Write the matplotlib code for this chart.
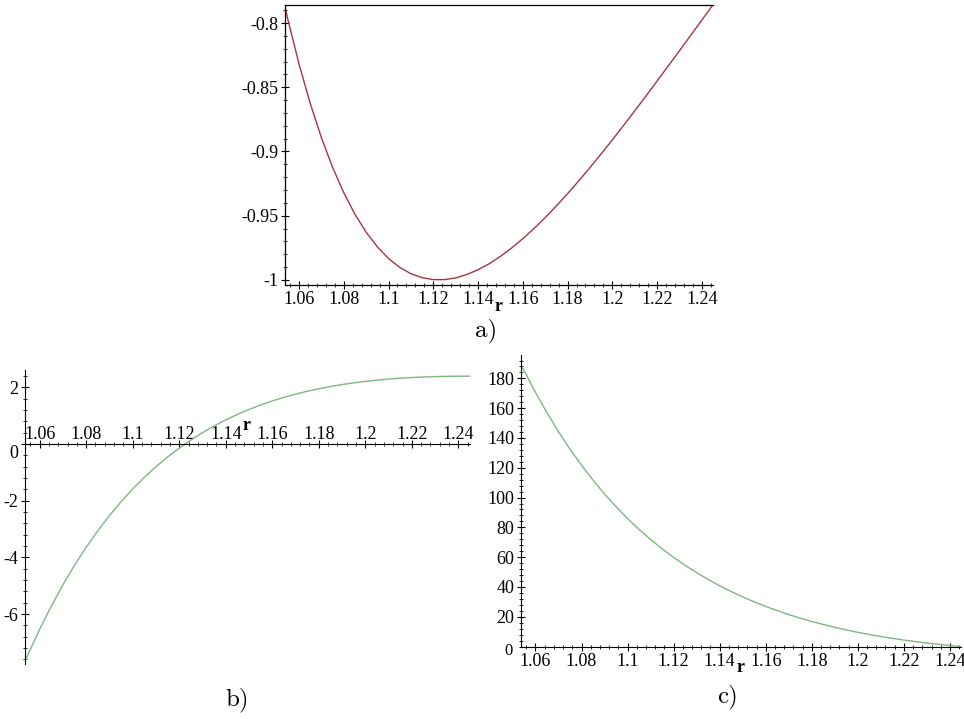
import matplotlib
matplotlib.use("Agg")
import matplotlib.pyplot as plt
from matplotlib.ticker import MultipleLocator, FixedLocator, FixedFormatter

plt.rcParams["axes.unicode_minus"] = False
plt.rcParams["font.family"] = ["Liberation Serif", "DejaVu Serif"]

# ---------------- data ----------------
r = [1.0535, 1.055, 1.06, 1.065, 1.07, 1.075, 1.08, 1.085, 1.09, 1.095,
     1.10, 1.105, 1.11, 1.115, 1.12, 1.125, 1.13, 1.135, 1.14, 1.145,
     1.15, 1.155, 1.16, 1.165, 1.17, 1.175, 1.18, 1.185, 1.19, 1.195,
     1.20, 1.205, 1.21, 1.215, 1.22, 1.225, 1.23, 1.235, 1.24, 1.245]

potential = [-0.7857, -0.7971, -0.8320, -0.8626, -0.8893, -0.9124, -0.9322,
             -0.9490, -0.9629, -0.9743, -0.9834, -0.9903, -0.9952, -0.9983,
             -0.9998, -0.9998, -0.9985, -0.9958, -0.9921, -0.9874, -0.9817,
             -0.9752, -0.9679, -0.9600, -0.9515, -0.9424, -0.9329, -0.9229,
             -0.9126, -0.9019, -0.8910, -0.8798, -0.8684, -0.8569, -0.8452,
             -0.8334, -0.8216, -0.8096, -0.7977, -0.7857]

first_deriv = [-7.714, -7.432, -6.543, -5.725, -4.972, -4.281, -3.646, -3.063,
               -2.528, -2.037, -1.588, -1.177, -0.801, -0.457, -0.144, 0.142,
               0.402, 0.638, 0.852, 1.046, 1.221, 1.379, 1.521, 1.648, 1.762,
               1.863, 1.952, 2.031, 2.100, 2.160, 2.212, 2.256, 2.293, 2.323,
               2.347, 2.366, 2.380, 2.390, 2.395, 2.396]

second_deriv = [190.1, 185.4, 170.6, 156.9, 144.2, 132.5, 121.7, 111.7, 102.4,
                93.9, 85.9, 78.6, 71.9, 65.6, 59.8, 54.5, 49.6, 45.0, 40.8,
                36.9, 33.3, 30.0, 26.9, 24.1, 21.4, 19.0, 16.8, 14.8, 12.9,
                11.1, 9.5, 8.1, 6.7, 5.5, 4.3, 3.3, 2.3, 1.5, 0.7, -0.1]

x_ticks = [1.06, 1.08, 1.10, 1.12, 1.14, 1.16, 1.18, 1.20, 1.22, 1.24]
x_tick_labels = ["1.06", "1.08", "1.1", "1.12", "1.14", "1.16", "1.18",
                 "1.2", "1.22", "1.24"]
a_yticks = [-1.0, -0.95, -0.9, -0.85, -0.8]
a_ytick_labels = ["-1", "-0.95", "-0.9", "-0.85", "-0.8"]
b_yticks = [-6, -4, -2, 2]
b_ytick_labels = ["-6", "-4", "-2", "2"]
c_yticks = [20, 40, 60, 80, 100, 120, 140, 160, 180]
c_ytick_labels = ["20", "40", "60", "80", "100", "120", "140", "160", "180"]
zero_label = "0"
axis_label = "r"
captions = ["a)", "b)", "c)"]

# ---------------- layout ----------------
W, H = 964, 719
fig = plt.figure(figsize=(W / 100, H / 100), dpi=100)


def axes_px(left, top, right, bottom):
    return fig.add_axes([left / W, 1 - bottom / H, (right - left) / W,
                         (bottom - top) / H])


TICK_FS = 13
RED = "#a8343f"
GREEN = "#7db87d"


def style(ax):
    ax.tick_params(which="major", direction="inout", length=6, width=0.8,
                   labelsize=TICK_FS, pad=1.5, colors="black")
    ax.tick_params(which="minor", direction="inout", length=3.5, width=0.6)
    ax.xaxis.set_major_locator(FixedLocator(x_ticks))
    ax.xaxis.set_major_formatter(FixedFormatter(x_tick_labels))
    ax.xaxis.set_minor_locator(MultipleLocator(0.004))
    ax.patch.set_alpha(0)


# ---- a) potential ----
axa = axes_px(284.5, 4.7, 713, 285)
axa.plot(r, potential, color=RED, lw=1.0)
axa.set_xlim(1.0535, 1.245)
axa.set_ylim(-1.004, -0.7857)
style(axa)
axa.yaxis.set_major_locator(FixedLocator(a_yticks))
axa.yaxis.set_major_formatter(FixedFormatter(a_ytick_labels))
axa.yaxis.set_minor_locator(MultipleLocator(0.01))
axa.spines["right"].set_visible(False)
for s in ["left", "bottom", "top"]:
    axa.spines[s].set_linewidth(0.9)
axa.text(1.149, -1.024, axis_label, ha="center", va="baseline", fontsize=13,
         fontweight="bold")

# ---- b) first derivative ----
axb = axes_px(24.5, 370.1, 470, 663.6)
axb.plot(r, first_deriv, color=GREEN, lw=1.0)
axb.set_xlim(1.0535, 1.245)
axb.set_ylim(-7.75, 2.61)
style(axb)
axb.xaxis.tick_top()
axb.xaxis.set_minor_locator(MultipleLocator(0.004))
axb.tick_params(axis="x", which="major", pad=-2.5)
axb.spines["top"].set_position(("data", 0))
axb.spines["bottom"].set_visible(False)
axb.spines["right"].set_visible(False)
axb.yaxis.set_major_locator(FixedLocator(b_yticks + [0]))
axb.yaxis.set_major_formatter(FixedFormatter(b_ytick_labels + [""]))
axb.yaxis.set_minor_locator(MultipleLocator(0.4))
axb.annotate(zero_label, xy=(1.0535, 0), xytext=(-11, -9),
             textcoords="offset pixels", ha="center", va="center",
             fontsize=TICK_FS)
axb.text(1.149, 0.494, axis_label, ha="center", va="baseline", fontsize=13,
         fontweight="bold")

# ---- c) second derivative ----
axc = axes_px(520.5, 355, 961, 646.65)
axc.plot(r, second_deriv, color=GREEN, lw=1.0)
axc.set_xlim(1.0535, 1.2448)
axc.set_ylim(-0.1, 195.7)
style(axc)
axc.spines["bottom"].set_position(("data", 0))
axc.spines["top"].set_visible(False)
axc.spines["right"].set_visible(False)
axc.yaxis.set_major_locator(FixedLocator(c_yticks))
axc.yaxis.set_major_formatter(FixedFormatter(c_ytick_labels))
axc.yaxis.set_minor_locator(MultipleLocator(4))
axc.annotate(zero_label, xy=(1.0535, 0), xytext=(-12, -4),
             textcoords="offset pixels", ha="center", va="center",
             fontsize=TICK_FS - 1)
axc.text(1.149, -16.9, axis_label, ha="center", va="baseline", fontsize=13,
         fontweight="bold")

# ---- captions ----
cap_pos = [(486, 331), (237, 700), (727, 697)]
for txt, (cx, cy) in zip(captions, cap_pos):
    fig.text(cx / W, 1 - cy / H, txt, ha="center", va="center", fontsize=18,
             fontfamily="cmr10")

fig.savefig("out.png", dpi=100, facecolor="white")
